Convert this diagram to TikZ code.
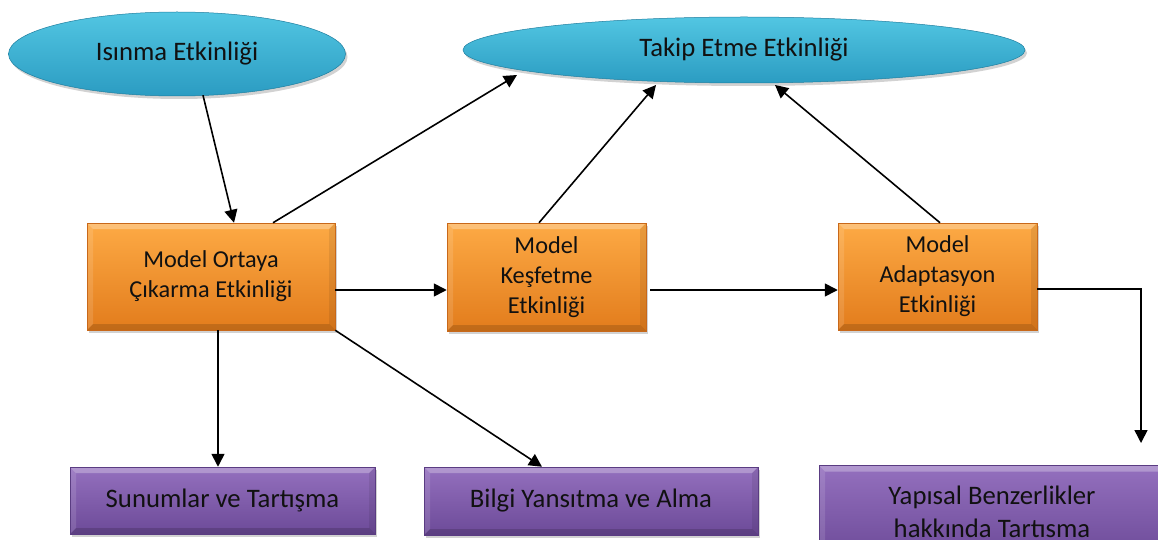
\documentclass[tikz,border=0pt]{standalone}
\usepackage{fontspec}
\setmainfont{Carlito}
\usetikzlibrary{shapes.geometric,arrows.meta,shadows,calc}
\definecolor{oTop}{HTML}{FDAA45}
\definecolor{oBot}{HTML}{E27C1C}
\definecolor{oEdge}{HTML}{C8681A}
\definecolor{bTop}{HTML}{52C6E2}
\definecolor{bBot}{HTML}{2B9CC2}
\definecolor{bEdge}{HTML}{1F7FA0}
\definecolor{pTop}{HTML}{9470BE}
\definecolor{pBot}{HTML}{6C4A98}
\definecolor{pEdge}{HTML}{5A3C82}
\definecolor{txt}{HTML}{111111}
\tikzset{
  shad/.style={drop shadow={opacity=0.35, shadow xshift=2pt, shadow yshift=-3pt}},
  bevel/.style={path picture={
    \coordinate (bnw) at (path picture bounding box.north west);
    \coordinate (bne) at (path picture bounding box.north east);
    \coordinate (bsw) at (path picture bounding box.south west);
    \coordinate (bse) at (path picture bounding box.south east);
    \fill[white,opacity=0.28] (bnw) -- (bne) -- ([xshift=-6pt,yshift=-6pt]bne) -- ([xshift=6pt,yshift=-6pt]bnw) -- cycle;
    \fill[white,opacity=0.12] (bnw) -- ([xshift=6pt,yshift=-6pt]bnw) -- ([xshift=6pt,yshift=6pt]bsw) -- (bsw) -- cycle;
    \fill[black,opacity=0.15] (bsw) -- (bse) -- ([xshift=-6pt,yshift=6pt]bse) -- ([xshift=6pt,yshift=6pt]bsw) -- cycle;
    \fill[black,opacity=0.08] (bne) -- ([xshift=-6pt,yshift=-6pt]bne) -- ([xshift=-6pt,yshift=6pt]bse) -- (bse) -- cycle;
  }},
  oval/.style={ellipse, inner sep=0pt, top color=bTop, bottom color=bBot, draw=bEdge,
    line width=0.5pt, shad, text=txt, font=\fontsize{26.7}{30}\selectfont},
  obox/.style={rectangle, inner sep=0pt, top color=oTop, bottom color=oBot, draw=oEdge,
    line width=0.5pt, shad, bevel, align=center, text=txt, font=\fontsize{24.3}{30}\selectfont},
  pbox/.style={rectangle, inner sep=0pt, top color=pTop, bottom color=pBot, draw=pEdge,
    line width=0.5pt, shad, bevel, align=center, text=txt, font=\fontsize{26.7}{33}\selectfont},
  conn/.style={line width=1.6pt, black},
  arr/.style={conn, -{Triangle[length=13pt,width=13pt]}}
}
\begin{document}
\begin{tikzpicture}[x=1pt,y=-1pt]
\useasboundingbox (0,0) rectangle (1158,540);
\fill[white] (0,0) rectangle (1158,540);

% ellipses
\node[oval, minimum width=337pt, minimum height=84pt] (isinma) at (177,54) {Isınma Etkinliği};
\node[oval, minimum width=562pt, minimum height=66pt] (takip) at (744,50) {Takip Etme Etkinliği};

% orange boxes
\node[obox, minimum width=248pt, minimum height=107pt] (m1) at (211,276.5) {Model Ortaya\\Çıkarma Etkinliği};
\node[obox, minimum width=199pt, minimum height=108pt] (m2) at (546.5,277) {Model\\Keşfetme\\Etkinliği};
\node[obox, minimum width=199pt, minimum height=107pt] (m3) at (937.5,276.5) {Model\\Adaptasyon\\Etkinliği};

% purple boxes
\node[pbox, minimum width=305pt, minimum height=67pt] (p1) at (222.5,500.5) {Sunumlar ve Tartışma};
\node[pbox, minimum width=334pt, minimum height=68pt] (p2) at (591,501) {Bilgi Yansıtma ve Alma};
\node[pbox, minimum width=346pt, minimum height=93pt] (p3) at (992,512) {Yapısal Benzerlikler\\hakkında Tartısma};

% connectors
\draw[arr] ([xshift=26pt,yshift=1pt]isinma.south) -- ([xshift=23pt]m1.north);
\draw[arr] ([xshift=62pt]m1.north) -- ([xshift=-227pt,yshift=-25pt]takip.center);
\draw[arr] ([xshift=-7.5pt]m2.north) -- ([xshift=-88pt,yshift=-35pt]takip.center);
\draw[arr] ([xshift=2.5pt]m3.north) -- ([xshift=31pt,yshift=-35pt]takip.center);
\draw[arr] ([yshift=-13.5pt]m1.east) -- ([yshift=-13.5pt]m1.east -| m2.west);
\draw[arr] ([xshift=4pt,yshift=-13pt]m2.east) -- ([yshift=-13pt]m2.east -| m3.west);
\coordinate (c3) at (1141,443);
\draw[arr] ([yshift=-12.5pt]m3.east) -| (c3);
\draw[arr] ([xshift=7pt]m1.south) -- ([xshift=7pt]m1.south |- p1.north);
\draw[arr] (m1.south east) -- ([xshift=-49pt]p2.north);
\end{tikzpicture}
\end{document}
